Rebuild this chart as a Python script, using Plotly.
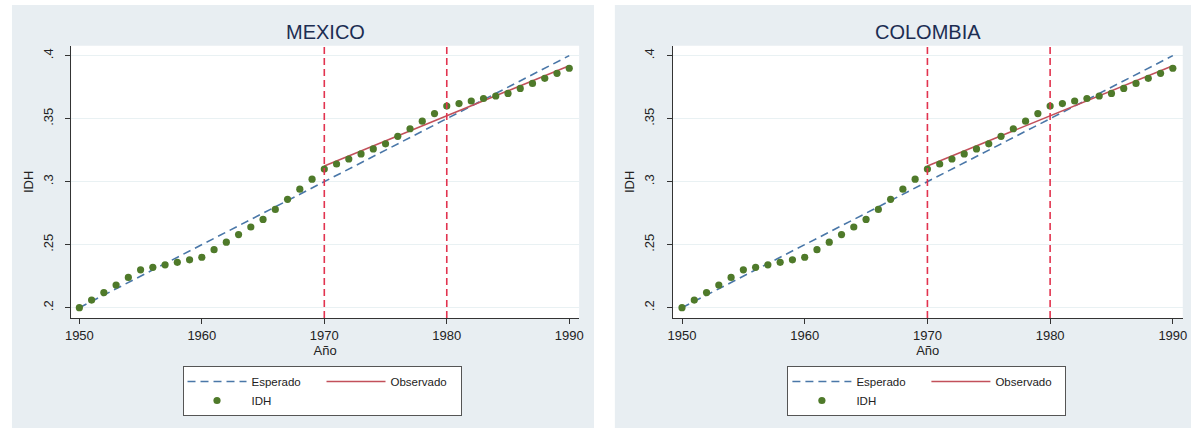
import plotly.graph_objects as go

# ---- data -------------------------------------------------------------
paises = ["MEXICO", "COLOMBIA"]

anios = list(range(1950, 1991))

idh_mexico = [0.200, 0.206, 0.212, 0.218, 0.224, 0.230, 0.232, 0.234, 0.236, 0.238,
              0.240, 0.246, 0.252, 0.258, 0.264, 0.270, 0.278, 0.286, 0.294, 0.302,
              0.310, 0.314, 0.318, 0.322, 0.326, 0.330, 0.336, 0.342, 0.348, 0.354,
              0.360, 0.362, 0.364, 0.366, 0.368, 0.370, 0.374, 0.378, 0.382, 0.386,
              0.390]
idh_colombia = [0.200, 0.206, 0.212, 0.218, 0.224, 0.230, 0.232, 0.234, 0.236, 0.238,
                0.240, 0.246, 0.252, 0.258, 0.264, 0.270, 0.278, 0.286, 0.294, 0.302,
                0.310, 0.314, 0.318, 0.322, 0.326, 0.330, 0.336, 0.342, 0.348, 0.354,
                0.360, 0.362, 0.364, 0.366, 0.368, 0.370, 0.374, 0.378, 0.382, 0.386,
                0.390]

esperado_x = [1950, 1990]
esperado_y = [0.200, 0.400]

observado_x = [1970, 1990]
observado_y = [0.3125, 0.392]

cortes = [1970, 1980]

x_ticks = [1950, 1960, 1970, 1980, 1990]
y_ticks = [0.2, 0.25, 0.3, 0.35, 0.4]
y_ticktext = [".2", ".25", ".3", ".35", ".4"]

# ---- styling ----------------------------------------------------------
W, H = 1195, 430
FONT = "Liberation Sans, Arial, Helvetica, sans-serif"
PANEL = "#e8eef2"
C_ESP = "#4a77a8"
C_OBS = "#c2505a"
C_IDH = "#4f7a2a"
C_CORTE = "#e2334f"
C_TXT = "#222222"
C_TITLE = "#1c2d52"


def px_x(v):
    return v / W


def px_y(v):
    return 1 - v / H


panels = [
    dict(bg=(6, 593), dom=(65.7, 578.0), xr=[1949.33, 1990.81], leg_x=178),
    dict(bg=(614, 1195), dom=(672.3, 1186.7), xr=[1949.24, 1990.81], leg_x=788),
]
plot_top, plot_bot = 45.7, 318.0
y_range = [0.1918, 0.4079]

fig = go.Figure()
shapes = []
annotations = []
series = [idh_mexico, idh_colombia]

for i, (pais, p, idh) in enumerate(zip(paises, panels, series)):
    n = "" if i == 0 else str(i + 1)
    xa, ya = "x" + n, "y" + n
    leg = "legend" + n

    fig.add_trace(go.Scatter(
        x=esperado_x, y=esperado_y, mode="lines", name="Esperado",
        line=dict(color=C_ESP, width=1.6, dash="8px,5px"),
        xaxis=xa, yaxis=ya, legend=leg, legendgroup=f"g1_{i}"))
    fig.add_trace(go.Scatter(
        x=observado_x, y=observado_y, mode="lines", name="Observado",
        line=dict(color=C_OBS, width=1.6),
        xaxis=xa, yaxis=ya, legend=leg, legendgroup=f"g2_{i}"))
    fig.add_trace(go.Scatter(
        x=anios, y=idh, mode="markers", name="IDH",
        marker=dict(color=C_IDH, size=7.2),
        xaxis=xa, yaxis=ya, legend=leg, legendgroup=f"g1_{i}"))

    # panel background and white plot region
    shapes.append(dict(type="rect", xref="paper", yref="paper",
                       x0=px_x(p["bg"][0]), x1=px_x(p["bg"][1]),
                       y0=px_y(428), y1=px_y(5),
                       fillcolor=PANEL, line=dict(width=0), layer="below"))
    shapes.append(dict(type="rect", xref="paper", yref="paper",
                       x0=px_x(p["dom"][0]), x1=px_x(p["dom"][1]),
                       y0=px_y(plot_bot), y1=px_y(plot_top),
                       fillcolor="white", line=dict(width=0), layer="below"))
    # vertical reference lines
    for c in cortes:
        shapes.append(dict(type="line", xref=xa, yref=f"{ya} domain",
                           x0=c, x1=c, y0=0, y1=1,
                           line=dict(color=C_CORTE, width=1.6, dash="7px,4px"),
                           layer="above"))

    annotations.append(dict(text=pais, xref="paper", yref="paper",
                            x=px_x((p["dom"][0] + p["dom"][1]) / 2), y=px_y(32),
                            xanchor="center", yanchor="middle", showarrow=False,
                            font=dict(family=FONT, size=20, color=C_TITLE)))

    axis_common = dict(showline=True, linecolor="#333333", linewidth=1,
                       ticks="outside", ticklen=5, tickcolor="#333333",
                       tickfont=dict(family=FONT, size=13, color=C_TXT),
                       zeroline=False, mirror=False)
    fig.layout["xaxis" + n] = dict(
        domain=[px_x(p["dom"][0]), px_x(p["dom"][1])], range=p["xr"],
        anchor=ya, tickvals=x_ticks, showgrid=False,
        title=dict(text="Año", font=dict(family=FONT, size=13, color=C_TXT), standoff=2),
        **axis_common)
    fig.layout["yaxis" + n] = dict(
        domain=[px_y(plot_bot), px_y(plot_top)], range=y_range,
        anchor=xa, tickvals=y_ticks, ticktext=y_ticktext, tickangle=-90,
        ticklabelstandoff=7,
        showgrid=True, gridcolor="#e9f1f3", gridwidth=1.3,
        title=dict(text="IDH", font=dict(family=FONT, size=13, color=C_TXT), standoff=4),
        **axis_common)

    fig.layout[leg] = dict(
        x=px_x(p["leg_x"]), y=px_y(366), xanchor="left", yanchor="top",
        orientation="h", bgcolor="white", bordercolor="#555555", borderwidth=1,
        itemwidth=59, entrywidth=65, tracegroupgap=0,
        font=dict(family=FONT, size=11.5, color=C_TXT))

fig.update_layout(
    width=W, height=H, margin=dict(l=0, r=0, t=0, b=0),
    paper_bgcolor="white", plot_bgcolor="rgba(0,0,0,0)",
    font=dict(family=FONT, color=C_TXT),
    shapes=shapes, annotations=annotations, showlegend=True,
)

fig.write_html("out.html")
